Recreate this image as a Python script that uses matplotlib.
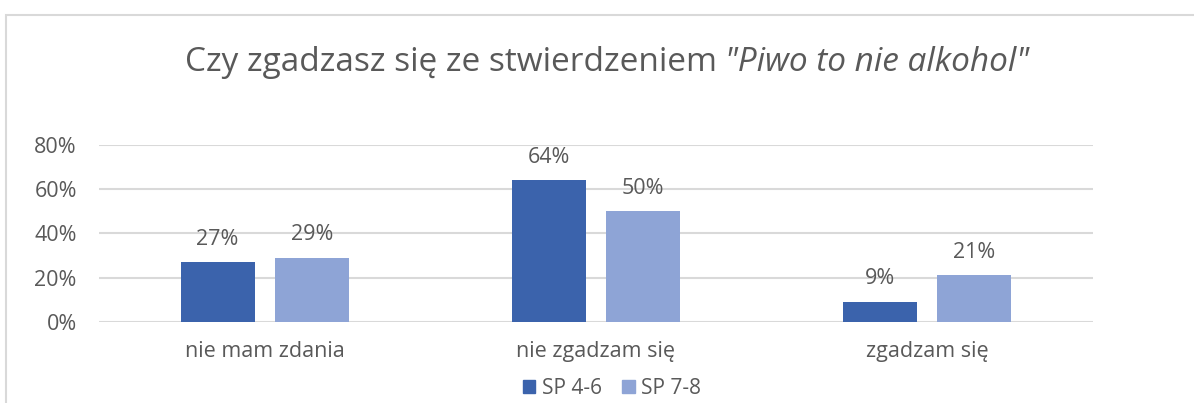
import matplotlib
matplotlib.use("Agg")
import matplotlib.pyplot as plt
from matplotlib.patches import Rectangle, Patch
import numpy as np

plt.rcParams['font.family'] = ['Open Sans', 'DejaVu Sans']

categories = ["nie mam zdania", "nie zgadzam się", "zgadzam się"]
series_names = ["SP 4-6", "SP 7-8"]
sp46 = [27, 64, 9]
sp78 = [29, 50, 21]
yticks = [0, 20, 40, 60, 80]

title_plain = "Czy zgadzasz się ze stwierdzeniem "
title_italic = "\"Piwo to nie alkohol\""

c_dark = "#3B63AC"
c_light = "#8EA4D6"
txt = "#595959"
grid = "#D9D9D9"

fig = plt.figure(figsize=(11.94, 4.03), dpi=100)
ax = fig.add_axes([0.0829, 0.2017, 0.8325, 0.4385])

x = np.arange(len(categories))
w = 0.223
off = 0.142
b1 = ax.bar(x - off, sp46, w, color=c_dark, zorder=3)
b2 = ax.bar(x + off, sp78, w, color=c_light, zorder=3)

for bars, vals in [(b1, sp46), (b2, sp78)]:
    for b, v in zip(bars, vals):
        ax.annotate(f"{v}%", (b.get_x() + b.get_width() / 2, v),
                    xytext=(0, 9), textcoords="offset points",
                    ha="center", va="bottom", fontsize=15.5, color=txt,
                    clip_on=False, zorder=4)

ax.set_xlim(-0.5, len(categories) - 0.5)
ax.set_ylim(0, 80)
ax.set_yticks(yticks)
ax.set_yticklabels([f"{t}%" for t in yticks])
ax.set_xticks(x)
ax.set_xticklabels(categories)
ax.tick_params(axis="y", length=0, pad=16, labelsize=15.5, labelcolor=txt)
ax.tick_params(axis="x", length=0, pad=14, labelsize=15.5, labelcolor=txt)
ax.grid(axis="y", color=grid, linewidth=1.5, zorder=0)
for s in ax.spines.values():
    s.set_visible(False)

# chart border (cropped on right and bottom)
fig.patches.append(Rectangle((6 / 1194, -0.1), 1.2, 0.9628 + 0.1,
                             transform=fig.transFigure, fill=False,
                             edgecolor=grid, linewidth=1.5))

# title with italic part
r = fig.canvas.get_renderer()
t1 = fig.text(0, 0.845, title_plain, fontsize=24, color=txt, va="center")
t2 = fig.text(0, 0.845, title_italic, fontsize=24, color=txt, va="center", style="italic")
w1 = t1.get_window_extent(r).width
w2 = t2.get_window_extent(r).width
start = 607 - (w1 + w2) / 2
t1.set_x(start / 1194)
t2.set_x((start + w1) / 1194)

handles = [Patch(color=c_dark), Patch(color=c_light)]
fig.legend(handles, series_names, loc="center", bbox_to_anchor=(612 / 1194, 1 - 388 / 403),
           ncol=2, frameon=False, fontsize=15, labelcolor=txt,
           handlelength=0.6, handleheight=0.6, handletextpad=0.3, columnspacing=1.0)

fig.savefig("out.png", dpi=100)
